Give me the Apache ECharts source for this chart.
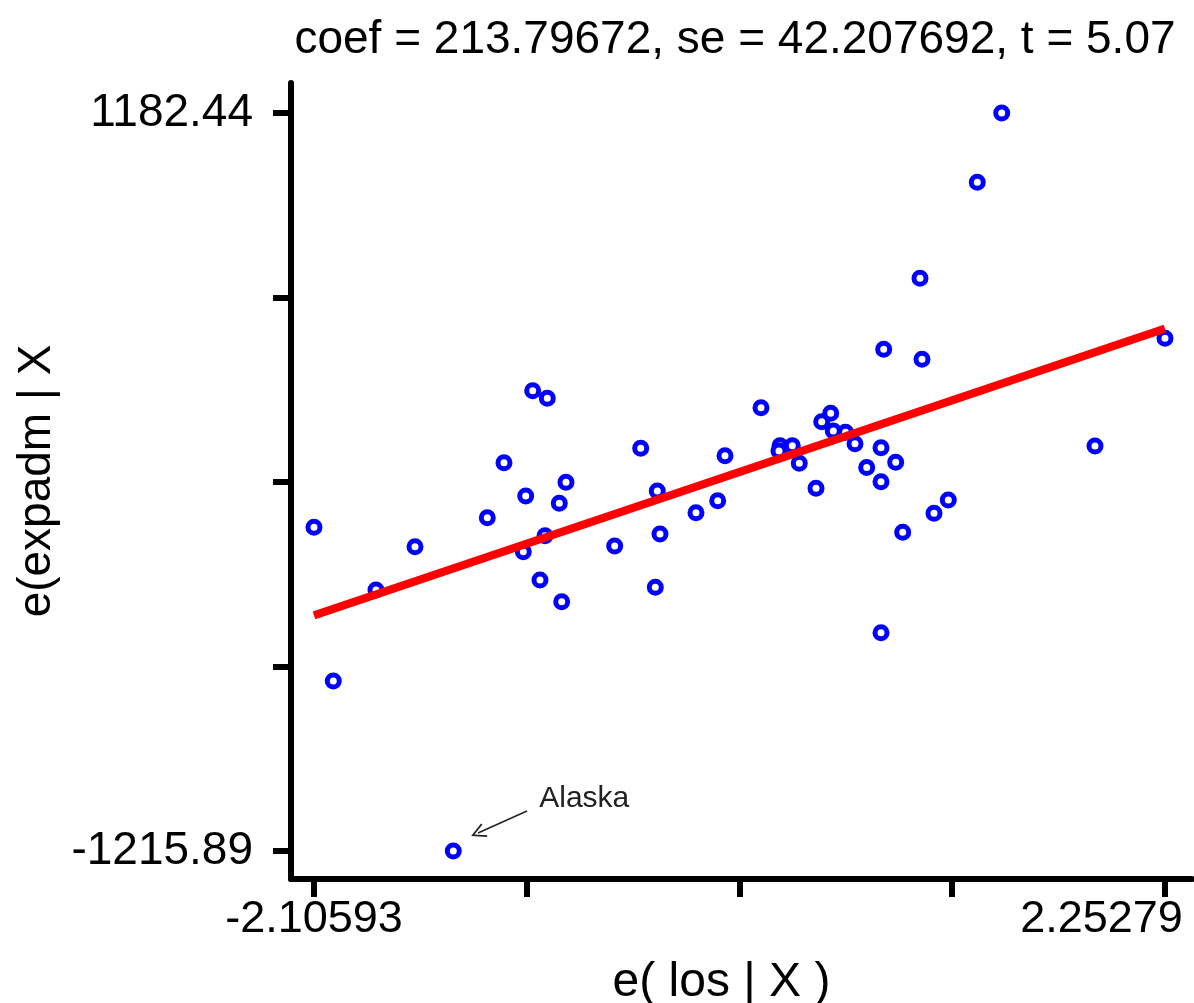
<!DOCTYPE html>
<html>
<head>
<meta charset="utf-8">
<title>e(expadm | X) vs e(los | X)</title>
<script src="https://cdn.jsdelivr.net/npm/echarts@6/dist/echarts.min.js"></script>
<style>
    html, body { margin: 0; padding: 0; background: #fff; }
    #avplot { width: 1194px; height: 1003px; }
</style>
</head>
<body>
<div id="avplot"></div>
<script>
// residuals of los and expadm given the other regressors, one per state
const residLos = [
    -0.9858, -0.9110, -1.1328, -0.8152, -1.0216, -0.8495, -1.2183, -2.10593, -1.5886, -0.9228,
    -1.0339, -0.9484, -0.8372, -1.7884, -2.0071, 0.1836, -0.4326, -0.0008, 0.2809, 0.3439,
    0.2758, 0.3797, 0.4945, 0.5406, 0.5539, 0.6164, 0.6650, -0.3476, -0.0382, -0.1494,
    -0.3338, -0.5658, -0.3578, 0.4653, 0.7250, 0.7982, 0.8735, 0.7982, 1.1429, 1.0697,
    0.9093, 1.8943, 0.7982, 0.9979, 0.8120, 1.0082, 2.25279, 1.4164, 1.2914, -1.3925
];
const residExpadm = [
    279.9, 255.2, 45.9, -17.7, -62.2, -86.0, -132.8, -164.0, -227.0, -191.3,
    -243.3, -335.2, -405.7, -367.7, -663.4, 224.7, 92.7, 68.7, 101.2, 101.2,
    84.0, 44.0, 179.2, 206.5, 149.0, 145.0, 107.7, -46.0, -77.5, -116.5,
    -185.7, -224.7, -358.9, -37.2, 30.4, 94.7, 47.2, -15.8, -75.3, -118.5,
    -180.2, 100.2, -506.5, 645.2, 414.5, 382.0, 450.2, 1182.44, 957.2, -1215.89
];
// only the outlier gets a name
const outlierName = 'Alaska';
const outlierIdx = 49;

// fitted line, slope = coef
const fitLos = [-2.10593, 2.25279];
const fitExpadm = [-450.24, 481.64];

const xTicks = [-2.10593, -1.01625, 0.07343, 1.16311, 2.25279];
const xLabels = [-2.10593, 2.25279];
const yTicks = [1182.44, 582.8575, -16.725, -616.3075, -1215.89];
const yLabels = [1182.44, -1215.89];

// arrow pointing at the outlier (data coords)
const arrowFrom = [-1.0150, -1086.0];
const arrowTo = [-1.2659, -1157.4];

const FONT = 'Liberation Sans';

const chart = echarts.init(document.getElementById('avplot'));

const points = residLos.map((x, i) => {
    const item = {value: [x, residExpadm[i]]};
    if (i === outlierIdx) {
        item.label = {
            show: true,
            formatter: outlierName,
            position: 'inside',
            offset: [131, -52],
            fontSize: 30,
            fontFamily: FONT,
            color: '#222',
        };
    }
    return item;
});

const fitData = fitLos.map((x, i) => [x, fitExpadm[i]]);

// last x label sits a bit right of its tick, like the original
const lastX = xLabels[xLabels.length - 1];
const xLabelFmt = (v) => (v === lastX ? '{t|' + String(v) + '}{s|}' : String(v));

const option = {
    animation: false,
    backgroundColor: '#fff',
    title: {
        text: 'coef = 213.79672, se = 42.207692, t = 5.07',
        left: 730,
        textAlign: 'center',
        top: 12,
        textStyle: {
            fontFamily: FONT,
            fontSize: 46,
            fontWeight: 'normal',
            color: '#000',
        },
    },
    grid: {
        left: 291,
        top: 83,
        width: 901,
        height: 796,
        containLabel: false,
        outerBoundsMode: 'none',
    },
    xAxis: {
        type: 'value',
        min: -2.2237,
        max: 2.3911,
        name: 'e( los | X )',
        nameLocation: 'middle',
        nameGap: 80,
        nameTextStyle: {
            fontFamily: FONT,
            fontSize: 48,
            color: '#000',
            padding: [0, 40, 0, 0],
        },
        axisLine: {show: true, onZero: false, lineStyle: {color: '#000', width: 6}},
        axisTick: {show: true, customValues: xTicks, length: 18, lineStyle: {color: '#000', width: 6}},
        axisLabel: {
            customValues: xLabels,
            formatter: xLabelFmt,
            fontFamily: FONT,
            fontSize: 45,
            color: '#000',
            margin: 18,
            rich: {
                t: {fontFamily: FONT, fontSize: 45, color: '#000'},
                s: {width: 127},
            },
        },
        splitLine: {show: false},
    },
    yAxis: {
        type: 'value',
        min: -1306.9,
        max: 1279.9,
        name: 'e(expadm | X',
        nameLocation: 'middle',
        nameGap: 230,
        nameTextStyle: {
            fontFamily: FONT,
            fontSize: 46,
            color: '#000',
        },
        axisLine: {show: true, onZero: false, lineStyle: {color: '#000', width: 6}},
        axisTick: {show: true, customValues: yTicks, length: 18, lineStyle: {color: '#000', width: 6}},
        axisLabel: {
            customValues: yLabels,
            formatter: (v) => String(v),
            fontFamily: FONT,
            fontSize: 46,
            color: '#000',
            margin: 38,
        },
        splitLine: {show: false},
    },
    series: [
        {
            type: 'scatter',
            data: points,
            symbol: 'circle',
            symbolSize: 12,
            itemStyle: {color: '#fff', borderColor: '#0000ff', borderWidth: 5, opacity: 1},
            z: 2,
            markLine: {
                silent: true,
                animation: false,
                symbol: ['none', 'path://M0,10L5,0L10,10L8.9,10.6L5,2.6L1.1,10.6Z'],
                symbolSize: [15, 15],
                label: {show: false},
                lineStyle: {color: '#222', width: 1.6, type: 'solid'},
                data: [[{coord: arrowFrom}, {coord: arrowTo}]],
            },
        },
        {
            type: 'line',
            data: fitData,
            symbol: 'none',
            lineStyle: {color: '#ff0000', width: 8},
            z: 3,
        },
    ],
};

chart.setOption(option);
</script>
</body>
</html>
